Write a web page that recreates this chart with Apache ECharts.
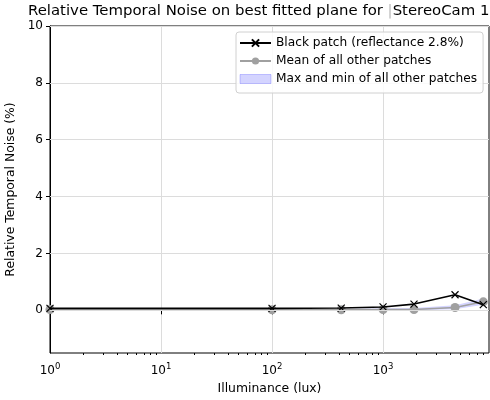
<!DOCTYPE html>
<html>
<head>
<meta charset="utf-8">
<script src="https://cdn.jsdelivr.net/npm/echarts@6/dist/echarts.min.js"></script>
<style>
  html, body { margin: 0; padding: 0; background: #fff; }
  #chart { width: 490px; height: 400px; }
</style>
</head>
<body>
<div id="chart"></div>
<script>
// data
const lux = [1, 100, 420, 1000, 1900, 4450, 8000];
const black_patch = [0.07, 0.07, 0.08, 0.12, 0.22, 0.55, 0.2];
const mean_other = [0.03, 0.02, 0.02, 0.03, 0.03, 0.1, 0.3];
const band_max = [0.06, 0.05, 0.05, 0.07, 0.08, 0.18, 0.42];
const band_min = [0.0, 0.0, 0.0, 0.0, 0.0, 0.04, 0.2];
const y_ticks = [0, 2, 4, 6, 8, 10];
const x_ticks = [1, 10, 100, 1000];
const x_minor = [2, 3, 4, 5, 6, 7, 8, 9, 20, 30, 40, 50, 60, 70, 80, 90,
  200, 300, 400, 500, 600, 700, 800, 900, 2000, 3000, 4000, 5000, 6000, 7000, 8000];

const font = "DejaVu Sans";
const band_color = "rgba(0,0,255,0.17)";
const pairs = (ys) => lux.map((x, i) => [x, ys[i]]);

const chart = echarts.init(document.getElementById("chart"));

chart.setOption({
  animation: false,
  backgroundColor: "#fff",
  textStyle: { fontFamily: font },
  title: {
    text: "Relative Temporal Noise on best fitted plane for {bar||}StereoCam 1",
    left: 28,
    top: 4,
    padding: 0,
    textStyle: {
      fontFamily: font,
      fontSize: 14.9,
      fontWeight: "normal",
      color: "#000",
      rich: { bar: { color: "#bbb", fontSize: 14.9, fontFamily: font } },
    },
  },
  legend: {
    orient: "vertical",
    left: 236,
    top: 32,
    z: 10,
    padding: [4, 6, 7, 3],
    itemGap: 4,
    itemWidth: 31,
    itemHeight: 9,
    backgroundColor: "rgba(255,255,255,0.85)",
    borderColor: "#d0d0d0",
    borderWidth: 1,
    borderRadius: 3,
    selectedMode: false,
    textStyle: { fontFamily: font, fontSize: 12.2, color: "#000", lineHeight: 14 },
    data: [
      { name: "Black patch (reflectance 2.8%)" },
      { name: "Mean of all other patches" },
      {
        name: "Max and min of all other patches",
        icon: "rect",
        itemStyle: { color: band_color, borderColor: "rgba(0,0,255,0.2)", borderWidth: 1 },
      },
    ],
  },
  grid: {
    left: 50, right: 1, top: 26, bottom: 47,
    outerBoundsMode: "none",
    containLabel: false,
    show: true, borderColor: "#000", borderWidth: 1, backgroundColor: "transparent",
  },
  xAxis: [
    {
      type: "log",
      logBase: 10,
      min: 1,
      max: 9000,
      name: "Illuminance (lux)",
      nameLocation: "middle",
      nameGap: 30,
      nameTextStyle: { fontFamily: font, fontSize: 12.4, color: "#000" },
      axisLine: { lineStyle: { color: "#000" } },
      axisTick: { customValues: x_ticks, length: 4, lineStyle: { color: "#000" } },
      axisLabel: {
        customValues: x_ticks,
        margin: 9,
        color: "#000",
        formatter: (v) => "{b|10}{s|" + Math.round(Math.log10(v)) + "}",
        rich: {
          b: { fontFamily: font, fontSize: 12, color: "#000" },
          s: { fontFamily: font, fontSize: 8.5, color: "#000", padding: [0, 0, 8, 0] },
        },
      },
      splitLine: { show: true, lineStyle: { color: "#dcdcdc", width: 1 } },
    },
    {
      type: "log",
      logBase: 10,
      min: 1,
      max: 9000,
      position: "bottom",
      axisLine: { show: false },
      axisLabel: { show: false },
      splitLine: { show: false },
      axisTick: { customValues: x_minor, length: 2, lineStyle: { color: "#000" } },
    },
  ],
  yAxis: {
    type: "value",
    min: -1.5,
    max: 10,
    name: "Relative Temporal Noise (%)",
    nameLocation: "middle",
    nameGap: 30,
    nameTextStyle: { fontFamily: font, fontSize: 12.4, color: "#000" },
    axisLine: { show: true, lineStyle: { color: "#000" } },
    axisTick: { customValues: y_ticks, length: 4, lineStyle: { color: "#000" } },
    axisLabel: { customValues: y_ticks, fontFamily: font, fontSize: 12, color: "#000", margin: 7 },
    splitLine: { show: false },
  },
  series: [
    {
      // horizontal grid lines
      name: "grid_y",
      type: "line",
      data: [],
      silent: true,
      z: 1,
      markLine: {
        silent: true,
        symbol: "none",
        label: { show: false },
        lineStyle: { color: "#dcdcdc", width: 1, type: "solid" },
        data: y_ticks.map((v) => ({ yAxis: v })),
      },
    },
    {
      name: "Max and min of all other patches",
      type: "custom",
      silent: true,
      itemStyle: { color: band_color },
      data: [0],
      renderItem: (params, api) => {
        const top = lux.map((x, i) => api.coord([x, band_max[i]]));
        const bottom = lux.map((x, i) => api.coord([x, band_min[i]])).reverse();
        return {
          type: "polygon",
          shape: { points: top.concat(bottom) },
          style: { fill: band_color },
        };
      },
      z: 2,
    },
    {
      name: "Mean of all other patches",
      type: "line",
      data: pairs(mean_other),
      symbol: "circle",
      symbolSize: 9,
      clip: false,
      color: "#a0a0a0",
      lineStyle: { color: "#a0a0a0", width: 1.6 },
      itemStyle: { color: "#a0a0a0" },
      z: 3,
    },
    {
      name: "Black patch (reflectance 2.8%)",
      type: "line",
      data: pairs(black_patch),
      symbol: "path://M0,0L10,10M10,0L0,10",
      symbolSize: 7,
      clip: false,
      color: "#000",
      lineStyle: { color: "#000", width: 1.6 },
      itemStyle: { color: "none", borderColor: "#000", borderWidth: 1.2 },
      z: 4,
    },
  ],
});
</script>
</body>
</html>
